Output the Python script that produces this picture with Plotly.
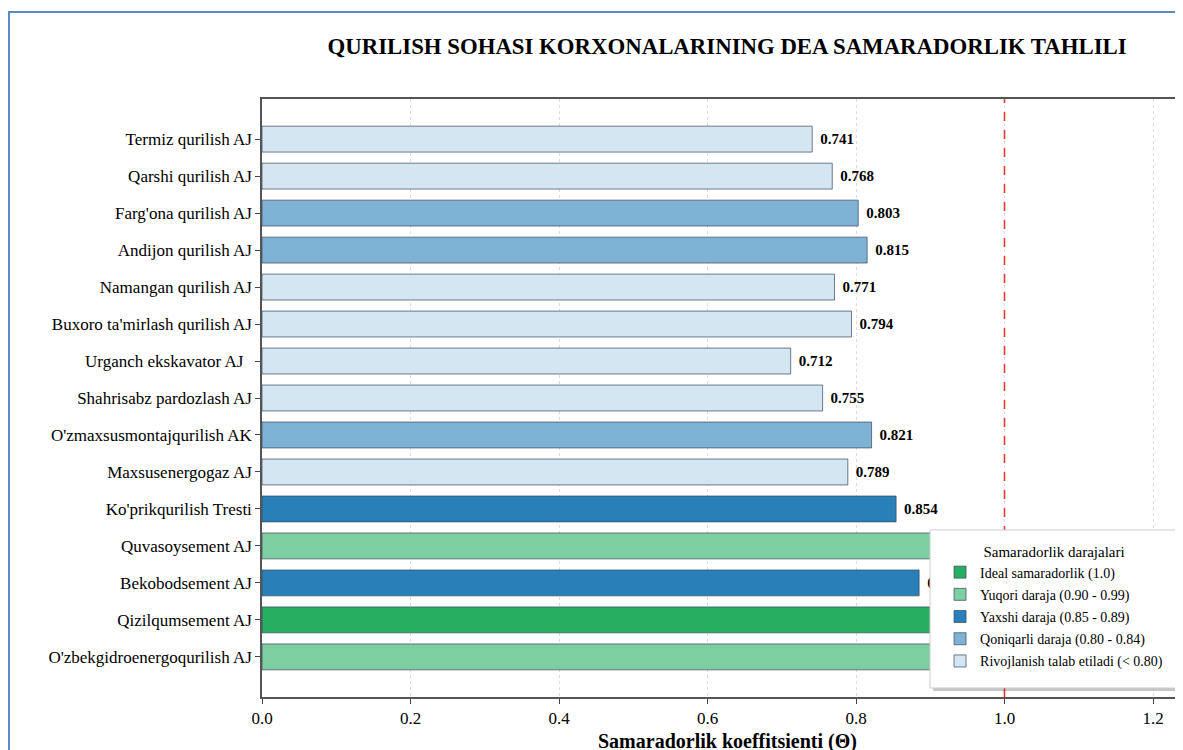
import plotly.graph_objects as go

companies = [
    "Termiz qurilish AJ",
    "Qarshi qurilish AJ",
    "Farg'ona qurilish AJ",
    "Andijon qurilish AJ",
    "Namangan qurilish AJ",
    "Buxoro ta'mirlash qurilish AJ",
    "Urganch ekskavator AJ\u00a0\u00a0",
    "Shahrisabz pardozlash AJ",
    "O'zmaxsusmontajqurilish AK",
    "Maxsusenergogaz AJ",
    "Ko'prikqurilish Tresti",
    "Quvasoysement AJ",
    "Bekobodsement AJ",
    "Qizilqumsement AJ",
    "O'zbekgidroenergoqurilish AJ",
]
# DEA efficiency scores (the ones under the legend are estimated)
scores = [0.741, 0.768, 0.803, 0.815, 0.771, 0.794, 0.712, 0.755,
          0.821, 0.789, 0.854, 0.962, 0.885, 1.000, 0.948]

levels = [
    ("Ideal samaradorlik (1.0)", "#27ae60"),
    ("Yuqori daraja (0.90 - 0.99)", "#7dcea0"),
    ("Yaxshi daraja (0.85 - 0.89)", "#2980b9"),
    ("Qoniqarli daraja (0.80 - 0.84)", "#7fb3d5"),
    ("Rivojlanish talab etiladi (< 0.80)", "#d4e6f1"),
]


def level_of(v):
    if v >= 1.0:
        return 0
    if v >= 0.90:
        return 1
    if v >= 0.85:
        return 2
    if v >= 0.80:
        return 3
    return 4


SERIF = "Liberation Serif, Times New Roman, serif"
fig = go.Figure()

for i, (name, color) in enumerate(levels):
    idx = [k for k, v in enumerate(scores) if level_of(v) == i]
    fig.add_trace(go.Bar(
        x=[scores[k] for k in idx],
        y=idx,
        orientation="h",
        width=0.7,
        name=name,
        legendgroup="g%d" % i,
        marker=dict(color=color, line=dict(color="rgba(52,73,94,0.7)", width=1)),
        texttemplate="\u2004<b>%{x:.3f}</b>",
        textposition="outside",
        textfont=dict(family=SERIF, size=15, color="black"),
        cliponaxis=False,
        hoverinfo="x+y",
    ))

# ideal efficiency line
fig.add_shape(type="line", x0=1.0, x1=1.0, y0=0, y1=1, xref="x", yref="paper",
              line=dict(color="#e03c31", width=1.6, dash="dash"), layer="above")

# outer frame of the picture
fig.add_shape(type="rect", xref="paper", yref="paper", x0=-0.2747, x1=1.2, y0=-0.3, y1=1.1455,
              line=dict(color="#5b8bc6", width=2), layer="above")

# legend box with shadow (the legend itself is drawn transparent on top)
fig.add_shape(type="rect", xref="paper", yref="paper", x0=0.7286, x1=0.9978, y0=0.0100, y1=0.2742,
              line=dict(width=0), fillcolor="rgba(0,0,0,0.22)", layer="above")
fig.add_shape(type="rect", xref="paper", yref="paper", x0=0.7253, x1=0.9946, y0=0.01505, y1=0.2793,
              line=dict(color="#cccccc", width=1), fillcolor="white", layer="above")

# x axis title (sits partly below the visible area, like the original)
fig.add_annotation(text="<b>Samaradorlik koeffitsienti (Θ)</b>", xref="paper", yref="paper",
                   x=0.505, y=-0.0745, xanchor="center", yanchor="middle", showarrow=False,
                   font=dict(family=SERIF, size=20, color="black"))

# the page adds an 8px body margin, so the figure is 8px smaller than the window
fig.update_layout(
    width=1175, height=742,
    margin=dict(l=254, r=0, t=91, b=53),
    paper_bgcolor="white", plot_bgcolor="white",
    font=dict(family=SERIF, color="black"),
    title=dict(text="<b>QURILISH SOHASI KORXONALARINING DEA SAMARADORLIK TAHLILI</b>",
               x=0.505, xref="paper", xanchor="center", y=1 - 38 / 742, yanchor="middle",
               font=dict(family=SERIF, size=22.8, color="black")),
    showlegend=True,
    legend=dict(
        title=dict(text="Samaradorlik darajalari", side="top center",
                   font=dict(family=SERIF, size=15)),
        x=0.7362, xanchor="left", y=0.2675, yanchor="top",
        bgcolor="rgba(0,0,0,0)", borderwidth=0,
        font=dict(family=SERIF, size=14), traceorder="grouped",
        tracegroupgap=1, itemwidth=30,
    ),
)

fig.update_xaxes(
    range=[0, 1.2404], tickvals=[0, 0.2, 0.4, 0.6, 0.8, 1.0, 1.2],
    ticktext=["0.0", "0.2", "0.4", "0.6", "0.8", "1.0", "1.2"],
    tickfont=dict(family=SERIF, size=17),
    ticks="outside", ticklen=5, tickcolor="#444",
    showline=True, linecolor="#555", linewidth=1.5, mirror=True,
    showgrid=True, gridcolor="#dddddd", griddash="dot", gridwidth=1,
    zeroline=False, automargin=False,
)
fig.update_yaxes(
    range=[15.085, -1.085], tickvals=list(range(len(companies))), ticktext=companies,
    tickfont=dict(family=SERIF, size=17),
    ticks="outside", ticklen=5, tickcolor="#444",
    showline=True, linecolor="#555", linewidth=1.5,
    showgrid=False, zeroline=False, automargin=False,
)

fig.write_html("out.html")
